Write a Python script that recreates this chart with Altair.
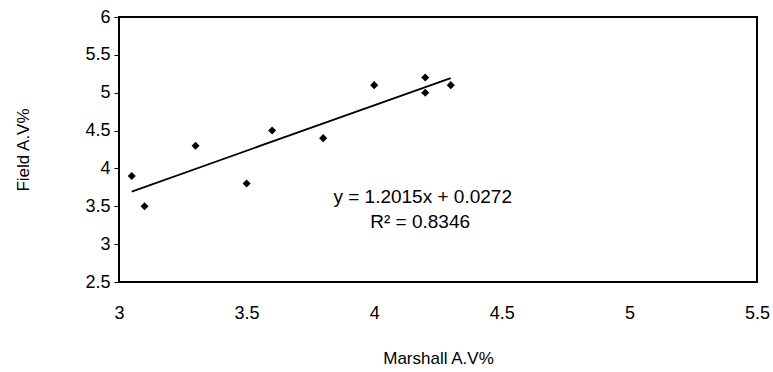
import altair as alt
import pandas as pd

marshall = [3.05, 3.1, 3.3, 3.5, 3.6, 3.8, 4.0, 4.2, 4.2, 4.3]
field = [3.9, 3.5, 4.3, 3.8, 4.5, 4.4, 5.1, 5.2, 5.0, 5.1]
eq_text = ["y = 1.2015x + 0.0272", "R\u00b2 = 0.8346"]
eq_x = [4.19, 4.18]
eq_y = [3.62, 3.29]

df = pd.DataFrame({"Marshall": marshall, "Field": field})
tdf = pd.DataFrame({"x": eq_x, "y": eq_y, "t": eq_text})

FONT = "Liberation Sans"
xs = alt.Scale(domain=[3, 5.5], nice=False, zero=False)
ys = alt.Scale(domain=[2.5, 6], nice=False, zero=False)

xax = alt.Axis(title="Marshall A.V%", values=[3, 3.5, 4, 4.5, 5, 5.5], format="~g",
               grid=False, ticks=False, domain=False, labelPadding=22,
               labelFontSize=18, titleFontSize=17, titlePadding=28)
yax = alt.Axis(title="Field A.V%", values=[2.5, 3, 3.5, 4, 4.5, 5, 5.5, 6], format="~g",
               grid=False, ticks=True, tickSize=5, tickColor="black", domain=False,
               labelPadding=4, labelFontSize=18, titleFontSize=17, titlePadding=52)

pts = alt.Chart(df).mark_point(shape="diamond", filled=True, color="black", size=65, opacity=1).encode(
    x=alt.X("Marshall:Q", scale=xs, axis=xax),
    y=alt.Y("Field:Q", scale=ys, axis=yax),
)

reg = alt.Chart(df).transform_regression("Marshall", "Field").mark_line(color="black", strokeWidth=1.8).encode(
    x=alt.X("Marshall:Q", scale=xs, axis=xax),
    y=alt.Y("Field:Q", scale=ys, axis=yax),
)

txt = alt.Chart(tdf).mark_text(font=FONT, fontSize=19, color="black", align="center", baseline="middle").encode(
    x=alt.X("x:Q", scale=xs, axis=xax),
    y=alt.Y("y:Q", scale=ys, axis=yax),
    text="t:N",
)

chart = (pts + reg + txt).properties(
    width=638, height=265,
    autosize=alt.AutoSizeParams(type="none"),
    padding={"left": 119, "top": 17, "right": 16, "bottom": 90},
    background="white",
).configure_view(stroke="black", strokeWidth=2).configure_axis(
    labelOverlap=False, labelFlush=False, labelBound=False,
    labelColor="black", titleColor="black", titleFontWeight="normal",
    labelFont=FONT, titleFont=FONT,
)

chart.save("out.html", embed_options={"renderer": "svg", "actions": False})
